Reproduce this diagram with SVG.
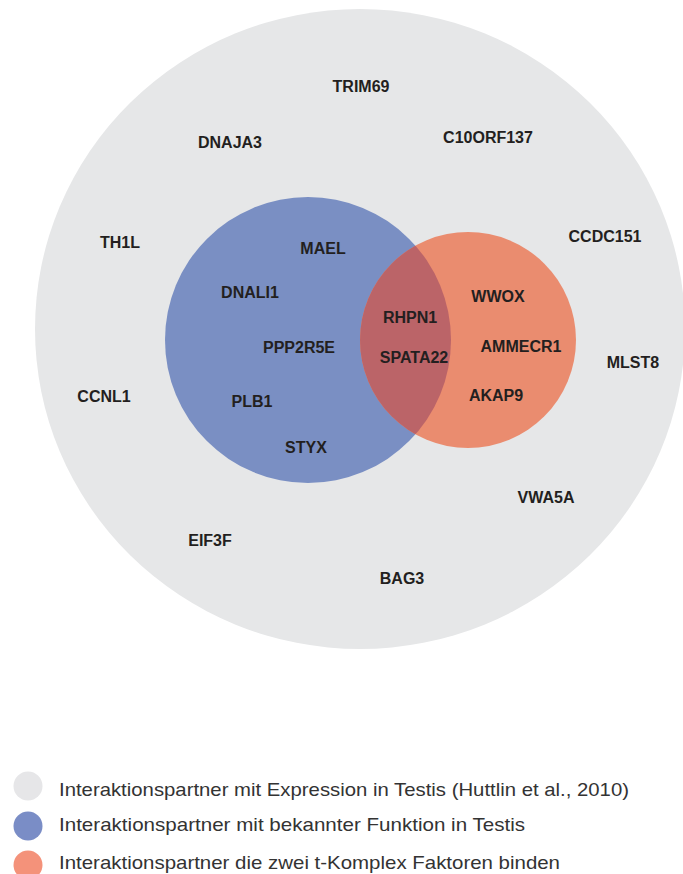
<svg xmlns="http://www.w3.org/2000/svg" width="683" height="874" viewBox="0 0 683 874">
<style>
.lbl{font-family:"Liberation Sans",Arial,sans-serif;font-weight:bold;font-size:16px;fill:#231f20;text-anchor:middle}
.leg{font-family:"Liberation Sans",Arial,sans-serif;font-size:19px;fill:#333}
</style>
<defs>
<clipPath id="blueClip"><circle cx="308" cy="340" r="143"/></clipPath>
</defs>
<rect width="683" height="874" fill="#ffffff"/>
<g id="testis">
<ellipse cx="360" cy="329" rx="325" ry="320" fill="#e6e7e8"/>
</g>
<g id="function">
<circle cx="308" cy="340" r="143" fill="#7a8fc3"/>
</g>
<g id="tcomplex">
<circle cx="468" cy="340" r="108" fill="#ea8c6f"/>
<circle cx="468" cy="340" r="108" fill="#bb6468" clip-path="url(#blueClip)"/>
</g>
<g id="labels">
<text class="lbl" x="361" y="92">TRIM69</text>
<text class="lbl" x="230" y="148">DNAJA3</text>
<text class="lbl" x="488" y="143">C10ORF137</text>
<text class="lbl" x="120" y="248">TH1L</text>
<text class="lbl" x="605" y="242">CCDC151</text>
<text class="lbl" x="633" y="368">MLST8</text>
<text class="lbl" x="104" y="402">CCNL1</text>
<text class="lbl" x="546" y="503">VWA5A</text>
<text class="lbl" x="210" y="546">EIF3F</text>
<text class="lbl" x="402" y="584">BAG3</text>
<text class="lbl" x="323" y="254">MAEL</text>
<text class="lbl" x="250" y="298">DNALI1</text>
<text class="lbl" x="299" y="353">PPP2R5E</text>
<text class="lbl" x="252" y="407">PLB1</text>
<text class="lbl" x="306" y="453">STYX</text>
<text class="lbl" x="410" y="323">RHPN1</text>
<text class="lbl" x="414" y="363">SPATA22</text>
<text class="lbl" x="498" y="302">WWOX</text>
<text class="lbl" x="521" y="352">AMMECR1</text>
<text class="lbl" x="496" y="401">AKAP9</text>
</g>
<g id="legend">
<circle cx="28" cy="786" r="14.5" fill="#e6e6e8"/>
<circle cx="28" cy="826" r="14.5" fill="#7a8dc6"/>
<circle cx="28" cy="865" r="14.5" fill="#f4927a"/>
<text class="leg" x="59" y="796" textLength="570" lengthAdjust="spacingAndGlyphs">Interaktionspartner mit Expression in Testis (Huttlin et al., 2010)</text>
<text class="leg" x="59" y="831" textLength="466" lengthAdjust="spacingAndGlyphs">Interaktionspartner mit bekannter Funktion in Testis</text>
<text class="leg" x="59" y="869" textLength="501" lengthAdjust="spacingAndGlyphs">Interaktionspartner die zwei t-Komplex Faktoren binden</text>
</g>
</svg>
